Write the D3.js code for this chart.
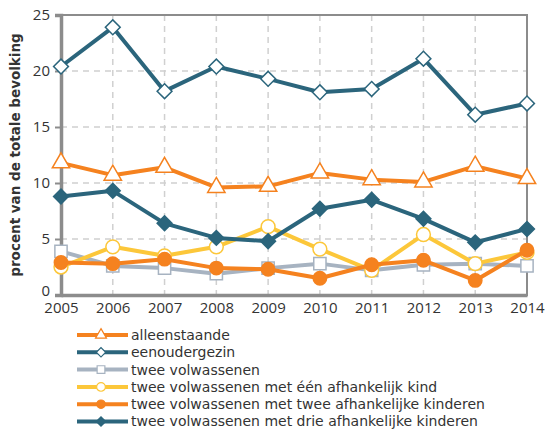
<!DOCTYPE html>
<html>
<head>
<meta charset="utf-8">
<script src="https://cdn.jsdelivr.net/npm/d3@7"></script>
<style>
  body { margin: 0; background: #fff; }
  svg text { font-family: "DejaVu Sans", sans-serif; fill: #333; }
</style>
</head>
<body>
<svg width="546" height="436"></svg>
<script>
var years = [2005, 2006, 2007, 2008, 2009, 2010, 2011, 2012, 2013, 2014];
var yTicks = [0, 5, 10, 15, 20, 25];

var alleenstaande  = [11.8, 10.7, 11.4, 9.6, 9.7, 10.9, 10.3, 10.1, 11.5, 10.4];
var eenoudergezin  = [20.4, 23.9, 18.2, 20.4, 19.3, 18.1, 18.4, 21.1, 16.1, 17.1];
var tweeVolw       = [3.9, 2.6, 2.4, 1.9, 2.4, 2.8, 2.2, 2.7, 2.8, 2.6];
var eenKind        = [2.5, 4.3, 3.5, 4.3, 6.1, 4.1, 2.2, 5.4, 2.8, 3.8];
var tweeKinderen   = [2.9, 2.8, 3.2, 2.4, 2.3, 1.5, 2.7, 3.1, 1.3, 4.0];
var drieKinderen   = [8.8, 9.3, 6.4, 5.1, 4.8, 7.7, 8.5, 6.8, 4.7, 5.9];

var seriesNames = [
  'alleenstaande',
  'eenoudergezin',
  'twee volwassenen',
  'twee volwassenen met één afhankelijk kind',
  'twee volwassenen met twee afhankelijke kinderen',
  'twee volwassenen met drie afhankelijke kinderen'
];

var orange = '#f5821f', teal = '#2b657c', grey = '#a7b3c1', yellow = '#fcc73a';

// style per series: colour, symbol, marker fill, size, rotation
var styles = [
  { color: orange, symbol: d3.symbolTriangle, fill: '#fff', size: 130, rot: 0 },
  { color: teal,   symbol: d3.symbolSquare,   fill: '#fff', size: 110, rot: 45 },
  { color: grey,   symbol: d3.symbolSquare,   fill: '#fff', size: 150, rot: 0 },
  { color: yellow, symbol: d3.symbolCircle,   fill: '#fff', size: 150, rot: 0 },
  { color: orange, symbol: d3.symbolCircle,   fill: orange, size: 140, rot: 0 },
  { color: teal,   symbol: d3.symbolSquare,   fill: teal,   size: 110, rot: 45 }
];

var allValues = [alleenstaande, eenoudergezin, tweeVolw, eenKind, tweeKinderen, drieKinderen];

var series = seriesNames.map(function(name, i) {
  return { name: name, style: styles[i], values: allValues[i].map(function(v, j) {
    return { year: years[j], value: v };
  }) };
});

var svg = d3.select('svg');
var plotLeft = 61, plotRight = 527, plotTop = 15, plotBottom = 295;

var x = d3.scaleLinear().domain([2005, 2014]).range([plotLeft, plotRight]);
var y = d3.scaleLinear().domain([0, 25]).range([plotBottom, plotTop]);

// dashed grid
var grid = svg.append('g').attr('class', 'grid');
grid.selectAll('.vgrid')
  .data(years.slice(1, -1))
  .enter().append('line')
  .attr('x1', function(d) { return x(d); })
  .attr('x2', function(d) { return x(d); })
  .attr('y1', plotTop).attr('y2', plotBottom)
  .attr('stroke', '#d0d0d0').attr('stroke-width', 1.5)
  .attr('stroke-dasharray', '6,5');
grid.selectAll('.hgrid')
  .data(yTicks.slice(1, -1))
  .enter().append('line')
  .attr('x1', plotLeft).attr('x2', plotRight)
  .attr('y1', function(d) { return y(d); })
  .attr('y2', function(d) { return y(d); })
  .attr('stroke', '#d0d0d0').attr('stroke-width', 1.5)
  .attr('stroke-dasharray', '6,5');

// plot frame
svg.append('rect')
  .attr('x', plotLeft).attr('y', plotTop)
  .attr('width', plotRight - plotLeft).attr('height', plotBottom - plotTop)
  .attr('fill', 'none').attr('stroke', '#8c8c8c').attr('stroke-width', 2);

// axes
var yAxis = svg.append('g')
  .attr('transform', 'translate(' + plotLeft + ',0)')
  .call(d3.axisLeft(y).tickValues(yTicks).tickSize(6).tickPadding(5));
var xAxis = svg.append('g')
  .attr('transform', 'translate(0,' + plotBottom + ')')
  .call(d3.axisBottom(x).tickValues(years).tickFormat(d3.format('d')).tickSize(0).tickPadding(7));

[yAxis, xAxis].forEach(function(a) {
  a.select('.domain').attr('stroke', '#8c8c8c').attr('stroke-width', 3.5);
  a.selectAll('.tick line').attr('stroke', '#8c8c8c').attr('stroke-width', 2);
  a.selectAll('.tick text')
    .style('font-family', '"Open Sans", sans-serif')
    .style('font-size', '15px').attr('fill', '#333');
});
// lift the 0 label a little so it clears the year labels
yAxis.selectAll('.tick text').filter(function(d) { return d === 0; }).attr('dy', '0em');

svg.append('text')
  .attr('transform', 'translate(20,' + ((plotTop + plotBottom) / 2) + ') rotate(-90)')
  .attr('text-anchor', 'middle')
  .style('font-size', '13.5px')
  .style('font-weight', 'bold')
  .text('procent van de totale bevolking');

var line = d3.line()
  .x(function(d) { return x(d.year); })
  .y(function(d) { return y(d.value); });

var seriesG = svg.selectAll('.series')
  .data(series)
  .enter().append('g')
  .attr('class', 'series');

seriesG.append('path')
  .attr('d', function(d) { return line(d.values); })
  .attr('fill', 'none')
  .attr('stroke', function(d) { return d.style.color; })
  .attr('stroke-width', 4)
  .attr('stroke-linejoin', 'round');

seriesG.each(function(s) {
  d3.select(this).selectAll('.marker')
    .data(s.values)
    .enter().append('path')
    .attr('class', 'marker')
    .attr('d', d3.symbol().type(s.style.symbol).size(s.style.size))
    .attr('transform', function(d) {
      return 'translate(' + x(d.year) + ',' + y(d.value) + ') rotate(' + s.style.rot + ')';
    })
    .attr('fill', s.style.fill)
    .attr('stroke', s.style.color)
    .attr('stroke-width', 1.5);
});

// legend
var legend = svg.append('g').attr('transform', 'translate(0,335)');
var rowH = 17.3;
var item = legend.selectAll('.item')
  .data(series)
  .enter().append('g')
  .attr('transform', function(d, i) { return 'translate(0,' + (i * rowH) + ')'; });

item.append('line')
  .attr('x1', 77).attr('x2', 128)
  .attr('stroke', function(d) { return d.style.color; })
  .attr('stroke-width', 4);
item.append('path')
  .attr('d', function(d) { return d3.symbol().type(d.style.symbol).size(d.style.size * 0.4)(); })
  .attr('transform', function(d) { return 'translate(101,0) rotate(' + d.style.rot + ')'; })
  .attr('fill', function(d) { return d.style.fill; })
  .attr('stroke', function(d) { return d.style.color; })
  .attr('stroke-width', 1.2);
item.append('text')
  .attr('x', 131)
  .attr('dy', '0.35em')
  .style('font-size', '14px')
  .text(function(d) { return d.name; });
</script>
</body>
</html>
